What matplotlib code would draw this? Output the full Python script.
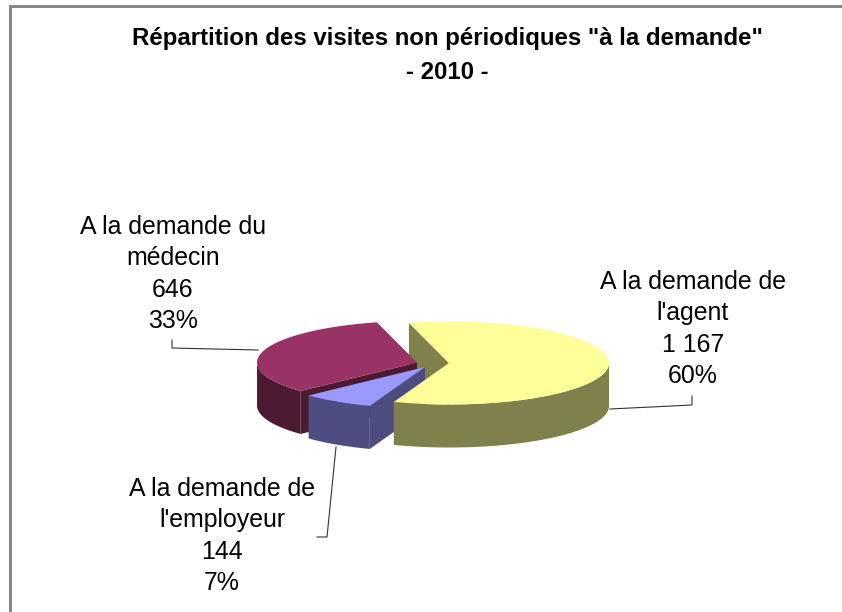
import numpy as np
import matplotlib
matplotlib.use('Agg')
import matplotlib.pyplot as plt
from matplotlib.patches import Polygon

plt.rcParams['font.family'] = ['Liberation Sans', 'DejaVu Sans']

title = 'Répartition des visites non périodiques "à la demande"\n- 2010 -'
names = ["A la demande de\nl'agent", "A la demande de\nl'employeur", 'A la demande du\nmédecin']
values = [1167, 144, 646]
value_labels = ['1 167', '144', '646']
percents = ['60%', '7%', '33%']
top_colors = ['#FFFF99', '#9999FF', '#993366']
side_colors = ['#80804D', '#4D4D80', '#4D1A33']

# pie shape in pixels
RX = 160
RY = 41.5
DEPTH = 43
START = 104.5
centers = [(449, 363), (425, 367), (417, 362.5)]


def arc(cx, cy, a1, a2, dy=0):
    t = np.radians(np.linspace(a1, a2, 200))
    return np.column_stack([cx + RX * np.cos(t), cy - RY * np.sin(t) + dy])


def top(i, a1, a2):
    cx, cy = centers[i]
    pts = np.vstack([[(cx, cy)], arc(cx, cy, a1, a2)])
    ax.add_patch(Polygon(pts, closed=True, fc=top_colors[i], ec='none', zorder=z()))


def wall(i, a1, a2):
    cx, cy = centers[i]
    pts = np.vstack([arc(cx, cy, a1, a2), arc(cx, cy, a2, a1, DEPTH)])
    ax.add_patch(Polygon(pts, closed=True, fc=side_colors[i], ec='none', zorder=z()))


def cut(i, a):
    cx, cy = centers[i]
    end = arc(cx, cy, a, a)[0]
    pts = [(cx, cy), end, (end[0], end[1] + DEPTH), (cx, cy + DEPTH)]
    ax.add_patch(Polygon(pts, closed=True, fc=side_colors[i], ec='none', zorder=z()))


order = [0]


def z():
    order[0] += 1
    return order[0]


fig = plt.figure(figsize=(8.42, 6.12), dpi=100, facecolor='white')
ax = fig.add_axes([0, 0, 1, 1])
ax.set_xlim(0, 842)
ax.set_ylim(612, 0)
ax.axis('off')

# frame
ax.fill_between([9, 12], 5, 612, color='#868686', lw=0)
ax.fill_between([9, 842], 5, 8, color='#868686', lw=0)

sweeps = np.array(values) / sum(values) * 360
yellow_end = START - sweeps[0]
blue_end = yellow_end - sweeps[1]
red_end = blue_end - sweeps[2]

# back to front
cut(0, START)
cut(2, blue_end + 360)
wall(2, 180, blue_end + 360)
top(2, red_end + 360, blue_end + 360)
cut(1, yellow_end + 360)
wall(1, blue_end + 360, yellow_end + 360)
top(1, blue_end + 360, yellow_end + 360)
wall(0, yellow_end + 360, 360)
top(0, yellow_end, START)

# leader lines
ax.plot([172, 172, 258], [340, 348, 350], color='#333333', lw=0.8, zorder=50)
ax.plot([692, 692, 610], [396, 405, 409], color='#333333', lw=0.8, zorder=50)
ax.plot([317, 327, 336], [537, 537, 447], color='#333333', lw=0.8, zorder=50)

ax.text(447, 55.5, title, ha='center', va='center', fontsize=17.3, fontweight='bold',
        linespacing=1.58, color='black')

label_pos = [(693, 329), (222, 536), (173, 274)]
for i in range(3):
    s = names[i] + '\n' + value_labels[i] + '\n' + percents[i]
    ax.text(label_pos[i][0], label_pos[i][1], s, ha='center', va='center',
            fontsize=17.9, linespacing=1.39, color='black')

fig.savefig('out.png', dpi=100)
